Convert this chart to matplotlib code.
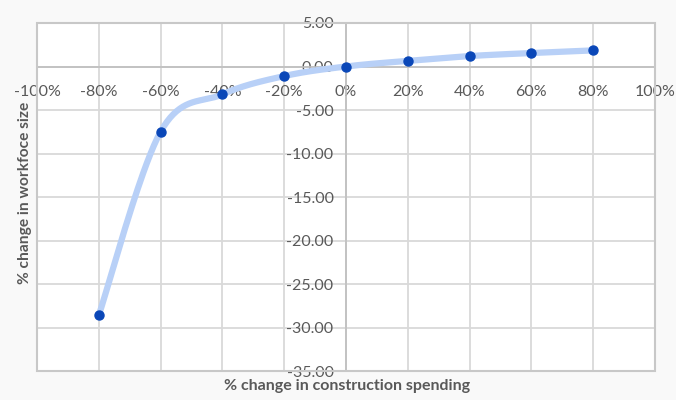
import numpy as np
import matplotlib.pyplot as plt

# % change in construction spending vs % change in workforce size
spend_pct = [-80, -60, -40, -20, 0, 20, 40, 60, 80]
workforce_pct = [-28.6, -7.5, -3.2, -1.1, 0.0, 0.65, 1.2, 1.55, 1.85]

x_ticks = [-100, -80, -60, -40, -20, 0, 20, 40, 60, 80, 100]
y_ticks = [-35, -30, -25, -20, -15, -10, -5, 0, 5]

plt.rcParams['font.family'] = ['Lato', 'DejaVu Sans']
text_col = '#595959'
grid_col = '#d9d9d9'


def smooth_curve(xs, ys, sx, sy, n=40):
    # Bezier smoothing (Catmull-Rom style) done in screen-like units
    px = np.array(xs, float) * sx
    py = np.array(ys, float) * sy
    pts = np.column_stack([px, py])
    out = []
    for i in range(len(pts) - 1):
        p0 = pts[max(i - 1, 0)]
        p1 = pts[i]
        p2 = pts[i + 1]
        p3 = pts[min(i + 2, len(pts) - 1)]
        c1 = p1 + (p2 - p0) / 6.0
        c2 = p2 - (p3 - p1) / 6.0
        t = np.linspace(0, 1, n)[:, None]
        seg = ((1 - t) ** 3) * p1 + 3 * ((1 - t) ** 2) * t * c1 \
            + 3 * (1 - t) * t ** 2 * c2 + t ** 3 * p2
        out.append(seg if i == 0 else seg[1:])
    out = np.vstack(out)
    return out[:, 0] / sx, out[:, 1] / sy


fig = plt.figure(figsize=(6.76, 4.0), dpi=100, facecolor='#f9f9f9')
ax = fig.add_axes([0.0547, 0.0725, 0.9143, 0.87])
ax.set_facecolor('white')

# pixel scale of each axis, so the smoothing looks like it does on screen
sx = 617 / 200.0
sy = 349 / 40.0
cx, cy = smooth_curve(spend_pct, workforce_pct, sx, sy)
ax.plot(cx, cy, color='#b8d0f7', lw=4.5, solid_capstyle='round', zorder=3)
ax.plot(spend_pct, workforce_pct, 'o', color='#0a47b8', ms=6.5, zorder=4)

ax.set_xlim(-100, 100)
ax.set_ylim(-35, 5)
ax.set_xticks(x_ticks)
ax.set_yticks(y_ticks)
ax.set_xticklabels([f'{v}%' for v in x_ticks])
ax.set_yticklabels([f'{v:.2f}' for v in y_ticks])
ax.grid(True, color=grid_col, lw=1.3, zorder=0)
ax.set_axisbelow(True)

# axes cross at the origin, like a spreadsheet scatter chart
ax.spines['left'].set_position(('data', 0))
ax.spines['bottom'].set_position(('data', 0))
for s in ['left', 'bottom']:
    ax.spines[s].set_color('#bfbfbf')
    ax.spines[s].set_linewidth(1.2)
for s in ['top', 'right']:
    ax.spines[s].set_visible(False)
# outer frame of the plot area
frame = plt.Rectangle((0, 0), 1, 1, transform=ax.transAxes, fill=False,
                      ec='#c8c8c8', lw=1.5, zorder=5, clip_on=False)
ax.add_patch(frame)

ax.tick_params(axis='both', length=0, labelsize=11.5, labelcolor=text_col)
ax.tick_params(axis='x', pad=13)
ax.tick_params(axis='y', pad=9)

fig.text(0.513, 0.036, '% change in construction spending', ha='center',
         va='center', fontsize=11.5, fontweight='bold', color=text_col)
fig.text(0.037, 0.519, '% change in workfoce size', ha='center', va='center',
         rotation=90, fontsize=11.2, fontweight='bold', color=text_col)

fig.savefig('out.png', dpi=100, facecolor=fig.get_facecolor())
